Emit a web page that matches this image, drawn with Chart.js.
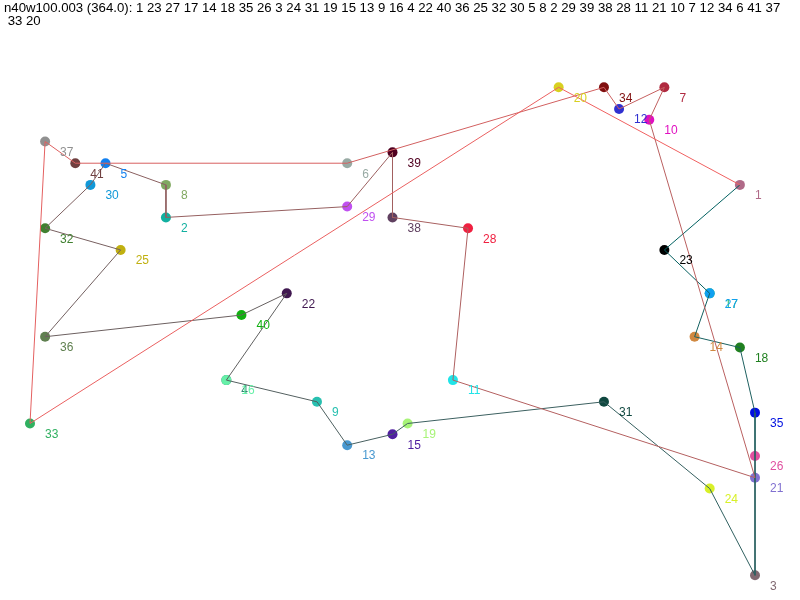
<!DOCTYPE html>
<html>
<head>
<meta charset="utf-8">
<script src="https://cdn.jsdelivr.net/npm/chart.js@4.4.1/dist/chart.umd.min.js"></script>
<style>
html,body{margin:0;padding:0;background:#fff;}
#c{display:block;}
</style>
</head>
<body>
<canvas id="c" width="800" height="600"></canvas>
<script>
// ---- data ----
const titleText = "n40w100.003 (364.0): 1 23 27 17 14 18 35 26 3 24 31 19 15 13 9 16 4 22 40 36 25 32 30 5 8 2 29 39 38 28 11 21 10 7 12 34 6 41 37";
const titleText2 = " 33 20";
const nodeIds = [1,2,3,4,5,6,7,8,9,10,11,12,13,14,15,16,17,18,19,20,21,22,23,24,25,26,27,28,29,30,31,32,33,34,35,36,37,38,39,40,41];
const nodeX = [47,9,48,13,5,21,42,9,19,41,28,39,21,44,24,13,45,47,25,35,48,17,42,45,6,48,45,29,21,4,38,1,0,38,48,1,1,24,24,14,3];
const nodeY = [9,12,45,27,7,7,0,9,29,3,27,2,33,23,32,27,19,24,31,0,36,19,15,37,15,34,19,13,11,9,29,13,31,0,30,23,5,12,6,21,7];
const tour = [1,23,27,17,14,18,35,26,3,24,31,19,15,13,9,16,4,22,40,36,25,32,30,5,8,2,29,39,38,28,11,21,10,7,12,34,6,41,37,33,20];

// ---- styles ----
const nodeColors = ["#b06a88","#12b0a0","#806870","#308870","#1280f0","#98aaa4","#b02a40","#80a860","#28c0b0","#e010c0",
  "#20e4e8","#3030d0","#4898d0","#d08840","#5020a0","#66f0a8","#30c070","#208020","#a8f478","#d8d020",
  "#8070d0","#401850","#000000","#d8f028","#c0b010","#e050a0","#10a0f0","#f02040","#c050f0","#1098d8",
  "#104840","#408030","#30b060","#801010","#0010e0","#608050","#909090","#604060","#500020","#10b010","#704040"];
const startCol = [0,96,96], endCol = [240,96,96];
function edgeColor(i){
  const t = i/(tour.length-1);
  const c = startCol.map((s,k)=>Math.round(s+(endCol[k]-s)*t));
  return `rgb(${c[0]},${c[1]},${c[2]})`;
}

const pointData = nodeIds.map((id,i)=>({x:nodeX[i], y:nodeY[i]}));
const tourData = tour.concat([tour[0]]).map(id=>({x:nodeX[id-1], y:nodeY[id-1]}));

const labelPlugin = {
  id:'labels',
  afterDatasetsDraw(chart){
    const ctx = chart.ctx;
    const xs = chart.scales.x, ys = chart.scales.y;
    ctx.save();
    ctx.font = "12px 'Liberation Sans', Arial, sans-serif";
    ctx.textAlign = 'left';
    ctx.textBaseline = 'middle';
    nodeIds.forEach((id,i)=>{
      ctx.fillStyle = nodeColors[i];
      ctx.fillText(String(id), xs.getPixelForValue(nodeX[i])+15, ys.getPixelForValue(nodeY[i])+11);
    });
    ctx.fillStyle = '#000';
    ctx.textBaseline = 'alphabetic';
    ctx.font = "13.2px 'Liberation Sans', Arial, sans-serif";
    ctx.fillText(titleText, 4, 12);
    ctx.fillText(titleText2, 4, 25);
    ctx.restore();
  }
};

new Chart(document.getElementById('c'), {
  type:'scatter',
  data:{
    datasets:[
      {
        data: tourData,
        showLine:true,
        borderWidth:1,
        pointRadius:0,
        tension:0,
        fill:false,
        clip:false,
        order:0,
        segment:{ borderColor: c => edgeColor(c.p0DataIndex) }
      },
      {
        data: pointData,
        showLine:false,
        pointRadius:5,
        pointBorderWidth:0,
        pointBackgroundColor:nodeColors,
        pointBorderColor:nodeColors,
        clip:false,
        order:1
      }
    ]
  },
  options:{
    responsive:false,
    animation:false,
    layout:{padding:{left:30,right:45,top:87.3,bottom:24.7}},
    plugins:{legend:{display:false},tooltip:{enabled:false},title:{display:false}},
    scales:{
      x:{type:'linear',min:0,max:48,display:false},
      y:{type:'linear',min:0,max:45,reverse:true,display:false}
    }
  },
  plugins:[labelPlugin]
});
</script>
</body>
</html>
